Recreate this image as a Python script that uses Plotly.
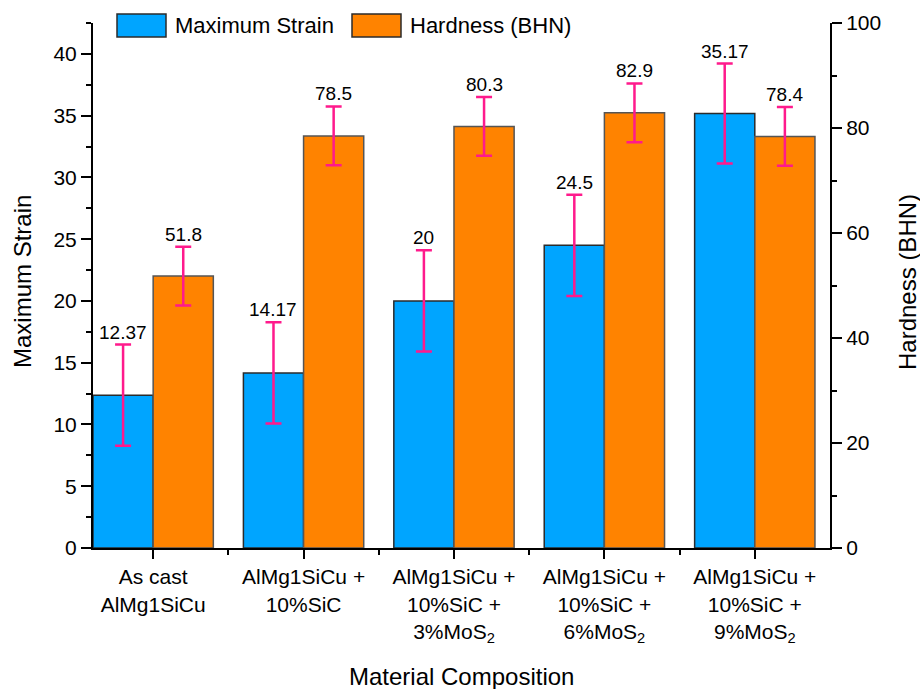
import plotly.graph_objects as go

# ---- data ----
categories = [
    "As cast<br>AlMg1SiCu",
    "AlMg1SiCu +<br>10%SiC",
    "AlMg1SiCu +<br>10%SiC +<br>3%MoS<sub>2</sub>",
    "AlMg1SiCu +<br>10%SiC +<br>6%MoS<sub>2</sub>",
    "AlMg1SiCu +<br>10%SiC +<br>9%MoS<sub>2</sub>",
]
max_strain = [12.37, 14.17, 20.0, 24.5, 35.17]
max_strain_err = [4.1, 4.1, 4.1, 4.1, 4.05]
hardness = [51.8, 78.5, 80.3, 82.9, 78.4]
hardness_err = [5.6, 5.6, 5.6, 5.6, 5.6]
strain_labels = ["12.37", "14.17", "20", "24.5", "35.17"]
hardness_labels = ["51.8", "78.5", "80.3", "82.9", "78.4"]

# ---- style ----
FONT = "Liberation Sans, Arial, sans-serif"
BLUE = "#00A5FF"
ORANGE = "#FF8300"
ERR = "#FF1A8C"
EDGE = "#2b2b2b"

W, H = 920, 689
L, R, T, B = 93, 90, 23, 141
PW, PH = W - L - R, H - T - B

x = list(range(len(categories)))


def px_x(p):
    return (p - L) / PW


def px_y(p):
    return (H - B - p) / PH


fig = go.Figure()
fig.add_trace(go.Bar(
    x=x, y=max_strain, name="Maximum Strain", offsetgroup="strain",
    marker=dict(color=BLUE, line=dict(color=EDGE, width=1.5)),
    error_y=dict(type="data", array=max_strain_err, color=ERR, thickness=2.5, width=8),
    yaxis="y", showlegend=False,
))
fig.add_trace(go.Bar(
    x=x, y=hardness, name="Hardness (BHN)", offsetgroup="hard",
    marker=dict(color=ORANGE, line=dict(color="#555555", width=1.5)),
    error_y=dict(type="data", array=hardness_err, color=ERR, thickness=2.5, width=8),
    yaxis="y2", showlegend=False,
))

annotations = []
# value labels above error bars
for i in x:
    annotations.append(dict(
        x=i - 0.2, y=max_strain[i] + max_strain_err[i], xref="x", yref="y",
        text=strain_labels[i], showarrow=False, yanchor="bottom", yshift=0,
        font=dict(family=FONT, size=19, color="black"),
    ))
    annotations.append(dict(
        x=i + 0.2, y=hardness[i] + hardness_err[i], xref="x", yref="y2",
        text=hardness_labels[i], showarrow=False, yanchor="bottom", yshift=0,
        font=dict(family=FONT, size=19, color="black"),
    ))

# axis titles
annotations.append(dict(
    x=px_x(22), y=px_y(282), xref="paper", yref="paper", text="Maximum Strain",
    textangle=-90, showarrow=False, xanchor="center", yanchor="middle",
    font=dict(family=FONT, size=24, color="black"),
))
annotations.append(dict(
    x=px_x(907), y=px_y(282), xref="paper", yref="paper", text="Hardness (BHN)",
    textangle=-90, showarrow=False, xanchor="center", yanchor="middle",
    font=dict(family=FONT, size=24, color="black"),
))
annotations.append(dict(
    x=px_x(461), y=px_y(676), xref="paper", yref="paper", text="Material Composition",
    showarrow=False, xanchor="center", yanchor="middle",
    font=dict(family=FONT, size=24, color="black"),
))

# legend drawn as swatches + text
shapes = []
legend_items = [("Maximum Strain", BLUE, 117, 166, 173), ("Hardness (BHN)", ORANGE, 352, 401, 408)]
for label, color, x0, x1, tx in legend_items:
    shapes.append(dict(
        type="rect", xref="paper", yref="paper",
        x0=px_x(x0), x1=px_x(x1), y0=px_y(37), y1=px_y(14),
        fillcolor=color, line=dict(color=EDGE, width=1.5), layer="above",
    ))
    annotations.append(dict(
        x=px_x(tx), y=px_y(25.5), xref="paper", yref="paper", text=label,
        showarrow=False, xanchor="left", yanchor="middle",
        font=dict(family=FONT, size=22, color="black"),
    ))


def axis_style(ticklen=10):
    return dict(
        showline=True, linecolor="black", linewidth=2, mirror=False,
        ticks="outside", tickcolor="black", tickwidth=2, ticklen=ticklen,
        showgrid=False, zeroline=False,
        tickfont=dict(family=FONT, size=21, color="black"),
    )


fig.update_layout(
    width=W, height=H,
    margin=dict(l=L, r=R, t=T, b=B, pad=0),
    paper_bgcolor="white", plot_bgcolor="white",
    barmode="group", bargap=0.2, bargroupgap=0,
    font=dict(family=FONT, color="black"),
    xaxis=dict(
        **axis_style(9),
        range=[-0.4, 4.5], tickvals=x, ticktext=categories,
        minor=dict(tickvals=[0.5, 1.5, 2.5, 3.5], ticks="outside", ticklen=5,
                   tickwidth=2, tickcolor="black"),
    ),
    yaxis=dict(
        **axis_style(10), range=[0, 42.5], tickvals=[0, 5, 10, 15, 20, 25, 30, 35, 40],
        minor=dict(dtick=2.5, tick0=0, ticks="outside", ticklen=5, tickwidth=2, tickcolor="black"),
    ),
    yaxis2=dict(
        **axis_style(10), overlaying="y", side="right", range=[0, 100],
        tickvals=[0, 20, 40, 60, 80, 100],
        minor=dict(dtick=10, tick0=0, ticks="outside", ticklen=5, tickwidth=2, tickcolor="black"),
    ),
    annotations=annotations,
    shapes=shapes,
)

fig.write_html("out.html")
